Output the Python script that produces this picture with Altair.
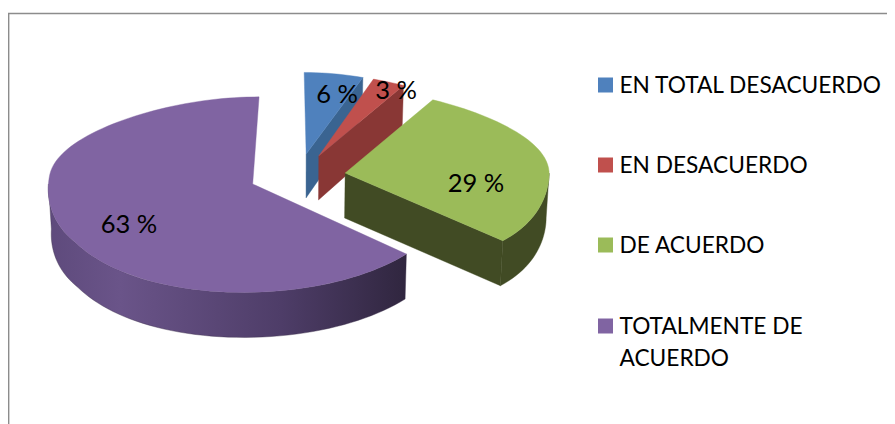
import math
import altair as alt
import pandas as pd

categories = ["EN TOTAL DESACUERDO", "EN DESACUERDO", "DE ACUERDO", "TOTALMENTE DE\nACUERDO"]
percent = [6, 3, 29, 63]
labels = ["6 %", "3 %", "29 %", "63 %"]

top_colors = ["#4F81BD", "#C0504D", "#9BBB59", "#8064A2"]
wall_colors = ["#3A6491", "#893735", "#414B24", None]
purple_wall = alt.Gradient(
    gradient="linear", x1=0, x2=1, y1=0, y2=0,
    stops=[
        alt.GradientStop(color="#5E4A7C", offset=0),
        alt.GradientStop(color="#6A5489", offset=0.2),
        alt.GradientStop(color="#4E3D68", offset=0.65),
        alt.GradientStop(color="#30263F", offset=1),
    ],
)

W, H = 879, 416
OX, OY = 8, 8
CX, CY = 297.3, 175.5
A, B, K = 204, 95, 0.11
EXPLODE, DEPTH, BOTTOM = 0.236, 45, 1.012


def project(X, Y, low=False):
    den_x = 1 + 0.2 * Y * Y if Y > 0 else 1 - 0.15 * Y * Y
    if Y > 0:
        den_y = 1 + K * Y
    elif Y < -0.7:
        den_y = 1 + 0.295 * (Y + 0.7)
    else:
        den_y = 1
    depth = DEPTH / (1 + K * max(Y, 0))
    if low:
        return CX + A * X / (den_x * BOTTOM) - OX, CY - B * Y / den_y + depth - OY
    return CX + A * X / den_x - OX, CY - B * Y / den_y - OY


def disk(th, r, m):
    t, mm = math.radians(th), math.radians(m)
    return EXPLODE * math.sin(mm) + r * math.sin(t), EXPLODE * math.cos(mm) + r * math.cos(t)


def arc_angles(a, b):
    n = max(2, int((b - a) / 2))
    return [a + (b - a) * i / n for i in range(n + 1)]


def poly(points):
    pts = list(points) + [points[0]]
    return pd.DataFrame({"px": [p[0] for p in pts], "py": [p[1] for p in pts], "i": range(len(pts))})


xs = alt.Scale(domain=[0, W], range=[0, W])
ys = alt.Scale(domain=[0, H], range=[0, H])


def face(points, fill):
    return alt.Chart(poly(points)).mark_line(
        fill=fill, stroke=fill if isinstance(fill, str) else "#3A2E4A",
        strokeWidth=0.4, interpolate="linear", clip=False,
    ).encode(
        x=alt.X("px:Q", scale=xs, axis=None),
        y=alt.Y("py:Q", scale=ys, axis=None),
        order="i:Q",
    )


layers = []

# frame: top and left edges
frame = pd.DataFrame({"px": [0.7, 0.7, W], "py": [H, 13.5 - OY, 13.5 - OY], "i": [0, 1, 2]})
layers.append(alt.Chart(frame).mark_line(color="#8C8C8C", strokeWidth=1.4, clip=False).encode(
    x=alt.X("px:Q", scale=xs, axis=None),
    y=alt.Y("py:Q", scale=ys, axis=None),
    order="i:Q"))

total = sum(percent)
spans = []
acc = 0
for v in percent:
    spans.append((acc * 360 / total, (acc + v) * 360 / total))
    acc += v

for idx in [0, 1, 3, 2]:
    a, b = spans[idx]
    m = (a + b) / 2
    wall = wall_colors[idx] if wall_colors[idx] else purple_wall
    tip = disk(0, 0, m)
    for th, visible in ((a, math.sin(math.radians(a)) < -1e-6), (b, math.sin(math.radians(b)) > 1e-6)):
        if visible:
            rim = disk(th, 1, m)
            layers.append(face([project(*tip), project(*rim), project(*rim, low=True), project(*tip, low=True)], wall))
    lo, hi = max(a, 90), min(b, 270)
    if hi > lo:
        angs = arc_angles(lo, hi)
        upper = [project(*disk(t, 1, m)) for t in angs]
        lower = [project(*disk(t, 1, m), low=True) for t in reversed(angs)]
        layers.append(face(upper + lower, wall))
    layers.append(face([project(*tip)] + [project(*disk(t, 1, m)) for t in arc_angles(a, b)], top_colors[idx]))

FONT = "Lato"
label_x = [337, 396, 476, 129]
label_y = [95, 91, 184, 225]
lab = pd.DataFrame({"t": labels, "x": [v - OX for v in label_x], "y": [v - OY for v in label_y]})
layers.append(alt.Chart(lab).mark_text(font=FONT, fontSize=25.5, color="#000000", align="center", baseline="middle").encode(
    x=alt.X("x:Q", scale=xs, axis=None), y=alt.Y("y:Q", scale=ys, axis=None), text="t:N"))

legend_y = [85, 165, 245, 326]
leg = pd.DataFrame({"name": categories, "sx": [605.5 - OX] * 4, "tx": [619.5 - OX] * 4,
                    "y": [v - OY for v in legend_y], "c": top_colors})
layers.append(alt.Chart(leg).mark_square(size=225, opacity=1).encode(
    x=alt.X("sx:Q", scale=xs, axis=None), y=alt.Y("y:Q", scale=ys, axis=None),
    color=alt.Color("c:N", scale=None)))
layers.append(alt.Chart(leg).mark_text(font=FONT, fontSize=22.7, color="#000000", align="left", baseline="line-top",
                                       lineBreak="\n", lineHeight=32, dy=-15).encode(
    x=alt.X("tx:Q", scale=xs, axis=None), y=alt.Y("y:Q", scale=ys, axis=None), text="name:N"))

chart = alt.layer(*layers).properties(
    width=W, height=H, padding=0, background="#FFFFFF",
    autosize=alt.AutoSizeParams(type="none"),
).configure_view(stroke=None)

chart.save("out.html", embed_options={"renderer": "svg", "actions": False})
